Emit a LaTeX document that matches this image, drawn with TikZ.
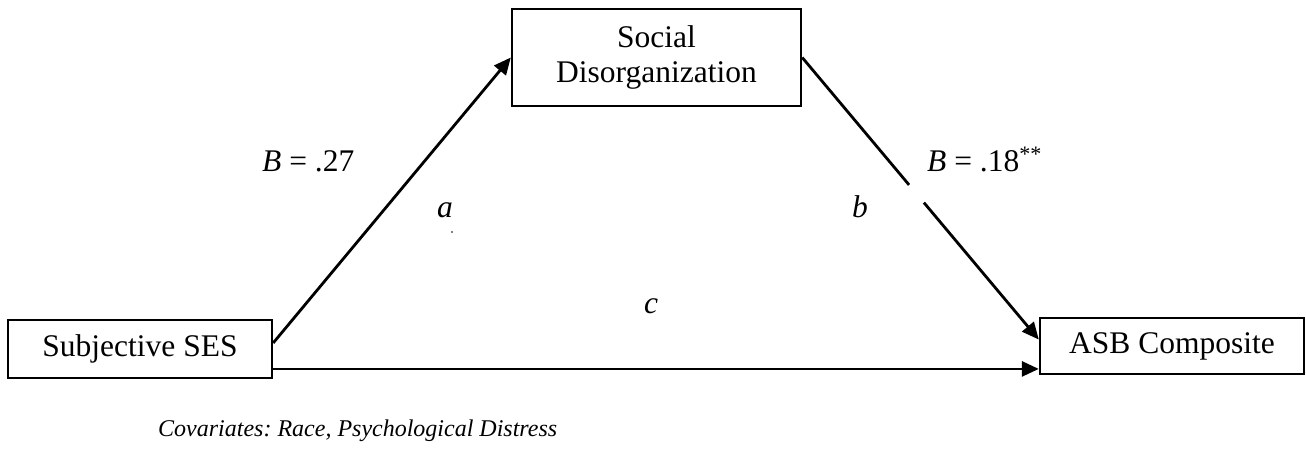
\documentclass[tikz,border=0pt]{standalone}
\usepackage{fontspec}
\setmainfont{Liberation Serif}
\usetikzlibrary{arrows.meta,calc}
\frenchspacing
\begin{document}
\begin{tikzpicture}[x=1pt,y=-1pt,
  box/.style={draw=black,line width=2.4pt,inner sep=0pt,align=center,
    font=\fontsize{31.5}{35.5}\selectfont},
  conn/.style={line width=2.8pt,-{Triangle[length=17pt,width=15pt]}},
  lbl/.style={font=\fontsize{31.5}{35.5}\selectfont,inner sep=0pt},
  cov/.style={font=\fontsize{24}{28}\selectfont\itshape,inner sep=0pt}]
\useasboundingbox (0,0) rectangle (1306,455);
\node[box,minimum width=264pt,minimum height=58pt] (ses) at (140,349) {Subjective SES};
\node[box,minimum width=289pt,minimum height=97pt] (soc) at (656.5,57.5) {Social\\Disorganization};
\node[box,minimum width=264pt,minimum height=56pt] (asb) at (1172,346) {ASB Composite};
\coordinate (aS) at ($(ses.north east)!0.4!(ses.south east)$);
\coordinate (bE) at ($(asb.north west)!0.39!(asb.south west)$);
\coordinate (cS) at ($(ses.north east)!0.83!(ses.south east)$);
\draw[conn] (aS) -- (soc.west);
\draw[conn] (soc.east) -- (bE);
\draw[white,line width=6pt] ($(soc.east)!0.452!(bE)$) -- ($(soc.east)!0.514!(bE)$);
\draw[conn] (cS) -- (cS -| asb.west);
\node[lbl,anchor=base west] (la) at (262,171) {\textit{B} = .27};
\node[lbl,anchor=base west] (lb) at (927,171) {\textit{B} = .18\textsuperscript{**}};
\node[lbl,anchor=base] (a) at (445,217) {\textit{a}};
\node[lbl,anchor=base] (b) at (860,217) {\textit{b}};
\node[lbl,anchor=base] (c) at (651,313) {\textit{c}};
\fill (452,232) circle (0.9pt);
\node[cov,anchor=base west] (cv) at (158,436) {Covariates: Race, Psychological Distress};
\end{tikzpicture}
\end{document}
